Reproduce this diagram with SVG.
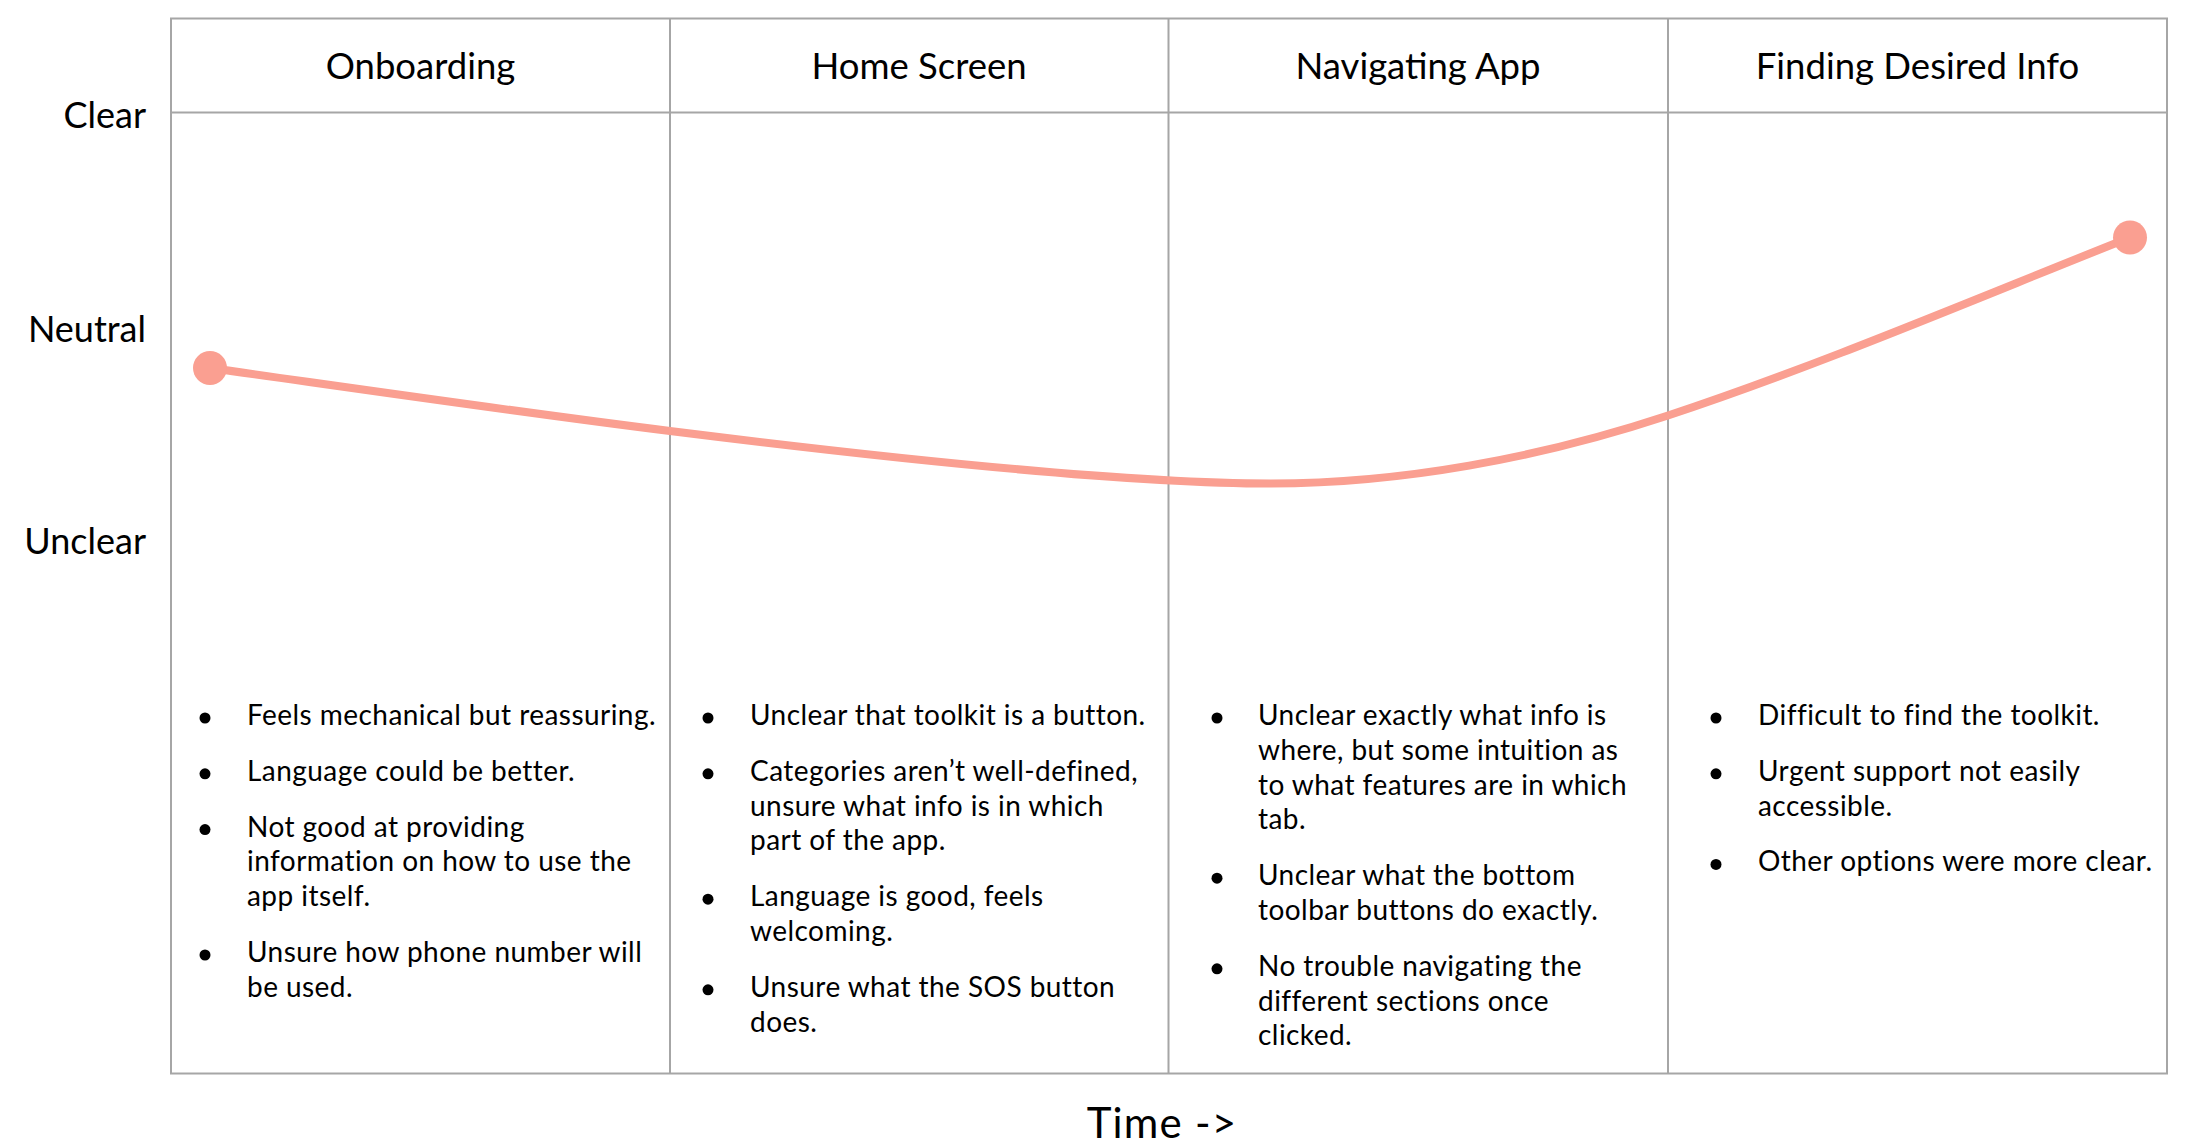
<svg xmlns="http://www.w3.org/2000/svg" width="2194" height="1145" viewBox="0 0 2194 1145">
<style>
.grid{fill:none;stroke:#A6A6A6;stroke-width:2}
.hdr{font-family:Lato,"Liberation Sans",sans-serif;font-size:36.5px;fill:#000;text-anchor:middle}
.lbl{font-family:Lato,"Liberation Sans",sans-serif;font-size:36px;fill:#000;text-anchor:end}
.body{font-family:Lato,"Liberation Sans",sans-serif;font-size:28px;letter-spacing:0.45px;fill:#000}
.dot{fill:#FA9F91}
.bul{fill:#000}
</style>
<rect width="2194" height="1145" fill="#fff"/>
<g id="grid">
<rect class="grid" x="171" y="18.5" width="1996" height="1055"/>
<line class="grid" x1="171" y1="112.5" x2="2167" y2="112.5"/>
<line class="grid" x1="670" y1="18.5" x2="670" y2="1073.5"/>
<line class="grid" x1="1168.5" y1="18.5" x2="1168.5" y2="1073.5"/>
<line class="grid" x1="1668" y1="18.5" x2="1668" y2="1073.5"/>
</g>
<g id="axis-labels">
<text class="lbl" x="146" y="128">Clear</text>
<text class="lbl" x="146" y="342">Neutral</text>
<text class="lbl" x="146" y="554">Unclear</text>
<text class="hdr" x="1162" y="1138" style="font-size:42px;letter-spacing:1.2px">Time -&gt;</text>
</g>
<g id="connectors">
<path d="M210,368 C360,389 520,412.3 670,431 C870,456 1120,483.5 1271,483.5 C1400,483.5 1538,458.5 1668,415.5 C1818,366 1980,296.9 2130,237.5" fill="none" stroke="#FA9F91" stroke-width="8" stroke-linecap="round"/>
</g>
<g id="start-point"><circle class="dot" cx="210" cy="368" r="17"/></g>
<g id="end-point"><circle class="dot" cx="2130" cy="237.5" r="17"/></g>
<g id="col-onboarding">
<text class="hdr" x="420.5" y="79">Onboarding</text>
<circle class="bul" cx="205" cy="718" r="5.5"/>
<circle class="bul" cx="205" cy="773.8" r="5.5"/>
<circle class="bul" cx="205" cy="829.6" r="5.5"/>
<circle class="bul" cx="205" cy="955" r="5.5"/>
<text class="body">
<tspan x="247" y="725">Feels mechanical but reassuring.</tspan>
<tspan x="247" y="780.8">Language could be better.</tspan>
<tspan x="247" y="836.6">Not good at providing</tspan>
<tspan x="247" y="871.4">information on how to use the</tspan>
<tspan x="247" y="906.2">app itself.</tspan>
<tspan x="247" y="962">Unsure how phone number will</tspan>
<tspan x="247" y="996.8">be used.</tspan>
</text>
</g>
<g id="col-home">
<text class="hdr" x="919" y="79">Home Screen</text>
<circle class="bul" cx="708" cy="718" r="5.5"/>
<circle class="bul" cx="708" cy="773.8" r="5.5"/>
<circle class="bul" cx="708" cy="899.2" r="5.5"/>
<circle class="bul" cx="708" cy="989.8" r="5.5"/>
<text class="body">
<tspan x="750" y="725">Unclear that toolkit is a button.</tspan>
<tspan x="750" y="780.8">Categories aren’t well-defined,</tspan>
<tspan x="750" y="815.6">unsure what info is in which</tspan>
<tspan x="750" y="850.4">part of the app.</tspan>
<tspan x="750" y="906.2">Language is good, feels</tspan>
<tspan x="750" y="941">welcoming.</tspan>
<tspan x="750" y="996.8">Unsure what the SOS button</tspan>
<tspan x="750" y="1031.6">does.</tspan>
</text>
</g>
<g id="col-navigating">
<text class="hdr" x="1418" y="79">Navigating App</text>
<circle class="bul" cx="1217" cy="718" r="5.5"/>
<circle class="bul" cx="1217" cy="878.2" r="5.5"/>
<circle class="bul" cx="1217" cy="968.8" r="5.5"/>
<text class="body">
<tspan x="1258" y="725">Unclear exactly what info is</tspan>
<tspan x="1258" y="759.8">where, but some intuition as</tspan>
<tspan x="1258" y="794.6">to what features are in which</tspan>
<tspan x="1258" y="829.4">tab.</tspan>
<tspan x="1258" y="885.2">Unclear what the bottom</tspan>
<tspan x="1258" y="920">toolbar buttons do exactly.</tspan>
<tspan x="1258" y="975.8">No trouble navigating the</tspan>
<tspan x="1258" y="1010.6">different sections once</tspan>
<tspan x="1258" y="1045.4">clicked.</tspan>
</text>
</g>
<g id="col-finding">
<text class="hdr" x="1917.5" y="79">Finding Desired Info</text>
<circle class="bul" cx="1716" cy="718" r="5.5"/>
<circle class="bul" cx="1716" cy="773.8" r="5.5"/>
<circle class="bul" cx="1716" cy="864.4" r="5.5"/>
<text class="body">
<tspan x="1758" y="725">Difficult to find the toolkit.</tspan>
<tspan x="1758" y="780.8">Urgent support not easily</tspan>
<tspan x="1758" y="815.6">accessible.</tspan>
<tspan x="1758" y="871.4">Other options were more clear.</tspan>
</text>
</g>
</svg>
